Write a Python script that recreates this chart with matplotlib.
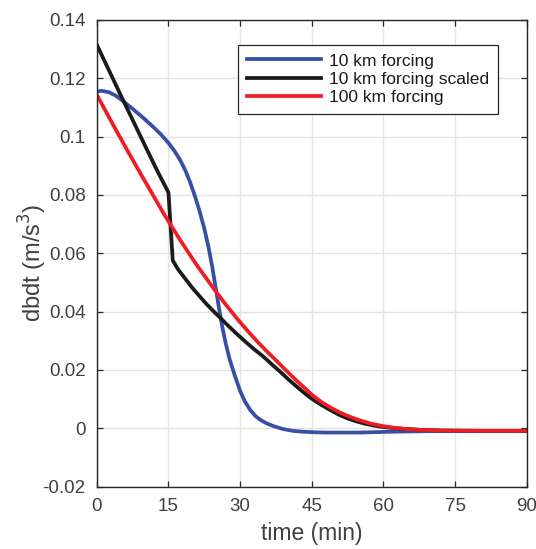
import numpy as np
import matplotlib
matplotlib.use('Agg')
import matplotlib.pyplot as plt

# values
t_10km = [0, 1, 2.5, 4, 5.6, 7.5, 9.8, 12, 13.5, 15, 16.2, 17.4, 18.5, 19.5, 20.5,
          21.5, 22.5, 23.4, 24.2, 25.0, 25.7, 26.3, 27.0, 27.8, 28.8, 30, 31, 32.1,
          33.2, 34.2, 35.5, 37, 39, 41, 43, 45.5, 48, 55, 62, 70, 80, 90]
b_10km = [0.1154, 0.1157, 0.1152, 0.1140, 0.1120, 0.1095, 0.1063, 0.1030, 0.1006,
          0.0978, 0.0952, 0.0921, 0.0885, 0.0845, 0.0798, 0.0745, 0.0685, 0.0620,
          0.0550, 0.0470, 0.0400, 0.0345, 0.0290, 0.0237, 0.0185, 0.0128, 0.0092,
          0.0063, 0.0042, 0.0029, 0.0017, 0.0007, -0.0003, -0.0009, -0.0012,
          -0.0014, -0.0015, -0.0015, -0.0012, -0.0010, -0.0009, -0.0009]

t_scaled = [0, 5, 10, 12.55, 15, 15.9, 17, 18.5, 20, 21.6, 23, 24.5, 26, 27.2, 29,
            31, 33, 34.9, 36.7, 38.5, 40.2, 41.9, 43.5, 45, 47, 48.9, 50.6, 52.4, 54,
            56, 58, 60, 62.5, 65, 68, 72, 80, 90]
b_scaled = [0.1315, 0.1142, 0.0972, 0.0886, 0.0808, 0.0575, 0.0545, 0.0513, 0.0481,
            0.0451, 0.0425, 0.0400, 0.0376, 0.0356, 0.0328, 0.0298, 0.0270, 0.0245,
            0.0218, 0.0192, 0.0166, 0.0142, 0.0120, 0.0101, 0.0080, 0.0062, 0.0047,
            0.0034, 0.0025, 0.0016, 0.0009, 0.0004, 0.0000, -0.0003, -0.0006,
            -0.0008, -0.0009, -0.0009]

t_100km = [0, 2, 4, 6, 8, 10, 12.2, 14, 15.35, 17, 18.5, 20, 21.5, 23, 25, 27, 29.3,
           31.5, 33.5, 35.5, 37.5, 39.5, 41.9, 43.5, 45, 47, 49, 51, 53, 55, 57.5, 60,
           62.5, 65, 68, 72, 80, 90]
b_100km = [0.1143, 0.1083, 0.1023, 0.0964, 0.0906, 0.0849, 0.0787, 0.0736, 0.0700,
           0.0657, 0.0619, 0.0582, 0.0546, 0.0512, 0.0467, 0.0424, 0.0377, 0.0335,
           0.0299, 0.0265, 0.0233, 0.0200, 0.0162, 0.0138, 0.0115, 0.0090, 0.0070,
           0.0053, 0.0039, 0.0027, 0.0015, 0.0007, 0.0001, -0.0003, -0.0006,
           -0.0008, -0.0009, -0.0009]

labels = ['10 km forcing', '10 km forcing scaled', '100 km forcing']
xticks = [0, 15, 30, 45, 60, 75, 90]
yticks = [-0.02, 0, 0.02, 0.04, 0.06, 0.08, 0.1, 0.12, 0.14]
ytick_labels = ['-0.02', '0', '0.02', '0.04', '0.06', '0.08', '0.1', '0.12', '0.14']

plt.rcParams['font.family'] = ['Liberation Sans', 'DejaVu Sans']

fig = plt.figure(figsize=(5.36, 5.49), dpi=100)
ax = fig.add_axes([0.1806, 0.1138, 0.802, 0.850])

lw = 2.7
ax.plot(t_10km, b_10km, color='#3750a6', linewidth=lw, label=labels[0])
ax.plot(t_scaled, b_scaled, color='#1c1a1a', linewidth=lw, label=labels[1])
ax.plot(t_100km, b_100km, color='#ee1c25', linewidth=lw, label=labels[2])

ax.set_xlim(0, 90)
ax.set_ylim(-0.02, 0.14)
ax.set_xticks(xticks)
ax.set_yticks(yticks)
ax.set_yticklabels(ytick_labels)

ax.grid(True, color='#e3e3e3', linewidth=1.0)
ax.set_axisbelow(True)
for s in ax.spines.values():
    s.set_color('#262626')
    s.set_linewidth(1.0)
ax.tick_params(direction='in', top=True, right=True, length=4.5, width=0.9,
               color='#262626', labelsize=13.5, labelcolor='#404040', pad=8)

ax.set_xlabel('time (min)', fontsize=16.5, color='#404040', labelpad=5)
ax.set_ylabel('dbdt (m/s$^3$)', fontsize=17, color='#404040')
ax.yaxis.set_label_coords(-0.112, 0.48)

leg = ax.legend(loc='upper right', bbox_to_anchor=(0.934, 0.947), fontsize=12.6,
                frameon=True, fancybox=False, edgecolor='#262626', framealpha=1,
                handlelength=4.2, handletextpad=0.5, borderpad=0.5,
                labelspacing=0.17, borderaxespad=0)
leg.get_frame().set_linewidth(0.9)
for txt in leg.get_texts():
    txt.set_color('#1a1a1a')

fig.savefig('out.png', dpi=100)
